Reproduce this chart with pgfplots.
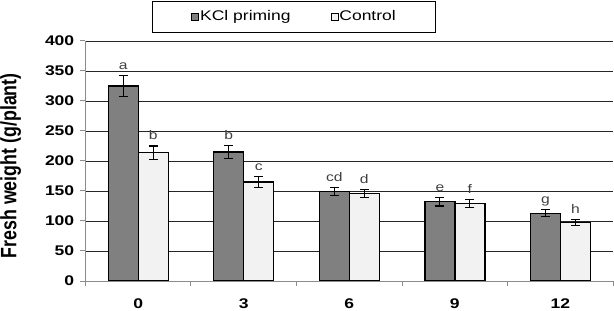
\documentclass[border=0pt]{standalone}
\usepackage{fontspec}
\setmainfont{Liberation Sans}[FakeStretch=1.25]
\newfontfamily\ylabfont{Liberation Sans}[FakeStretch=0.8]
\usepackage{pgfplots}
\pgfplotsset{compat=1.18}
\usepackage{pgfplotstable}

\definecolor{darkbar}{gray}{0.5}
\definecolor{lightbar}{gray}{0.95}
\definecolor{axgray}{gray}{0.55}

\pgfplotstableread{
x y err lab
0 325 17 a
1 215 11 b
2 149 7 cd
3 132 7 e
4 113 6 g
}\kcl
\pgfplotstableread{
x y err lab
0 214 11 b
1 165 9 c
2 146 7 d
3 129 7 f
4 98 5 h
}\ctrl

\begin{document}
\begin{tikzpicture}
\begin{axis}[
  scale only axis, width=527.8bp, height=240bp,
  ybar=0pt, bar width=30bp,
  xmin=-0.5, xmax=4.5, ymin=0, ymax=400,
  ytick={0,50,...,400},
  xtick={-0.5,0.5,...,4.5}, xticklabels={},
  extra x ticks={0,1,2,3,4}, extra x tick labels={0,3,6,9,12},
  extra x tick style={major tick length=0pt},
  axis x line=bottom, axis y line=left,
  axis line style={-, axgray, line width=1bp},
  tick align=outside, major tick length=5bp,
  tick style={axgray, line width=1bp},
  ymajorgrids, grid style={black!85, line width=0.9bp},
  /pgf/number format/assume math mode=true,
  ticklabel style={font=\fontsize{14bp}{16bp}\selectfont\bfseries},
  yticklabel style={anchor=east, inner sep=0pt, xshift=-6bp},
  xticklabel style={anchor=north, inner sep=0pt, yshift=-18bp},
  ylabel={Fresh weight (g/plant)},
  ylabel style={at={(axis description cs:-0.1618,0.48)}, anchor=north, inner sep=0pt,
    font=\ylabfont\bfseries\fontsize{22.25bp}{24bp}\selectfont},
  legend style={at={(axis description cs:0.1261,1.168)}, anchor=north west,
    draw=black, line width=0.8bp, inner xsep=39bp, inner ysep=8bp,
    font=\fontsize{14bp}{16bp}\selectfont,
    nodes={inner xsep=1bp, inner ysep=1bp, text height=10.5bp, text depth=3bp},
    /tikz/every even column/.append style={column sep=39bp}},
  legend columns=2,
  nodes near coords, point meta=explicit symbolic,
  visualization depends on={\thisrow{err}\as\myerr},
  every node near coord/.append style={anchor=base, inner sep=0pt,
    yshift={\myerr*0.6bp+6bp}, font=\fontsize{12.5bp}{14bp}\selectfont, text=black!75},
  error bars/y dir=both, error bars/y explicit,
  error bars/error bar style={black, line width=1.2bp},
  error bars/error mark options={rotate=90, mark size=4.5bp, line width=1.2bp, black},
]
\coordinate (o) at (rel axis cs:0,0);
\addplot[fill=darkbar, draw=black, line width=1.3bp,
  legend image code/.code={\draw[fill=darkbar, draw=black, line width=0.8bp] (0bp,-3.5bp) rectangle (7bp,3.5bp);}]
  table[x=x, y=y, y error=err, meta=lab]{\kcl};
\addlegendentry{KCl priming}
\addplot[fill=lightbar, draw=black, line width=1.3bp,
  legend image code/.code={\draw[fill=lightbar, draw=black, line width=0.8bp] (0bp,-3.5bp) rectangle (7bp,3.5bp);}]
  table[x=x, y=y, y error=err, meta=lab]{\ctrl};
\addlegendentry{Control}
\end{axis}
\pgfresetboundingbox
\path[use as bounding box] (o) ++(-85.4bp,-30bp) rectangle ++(614bp,311bp);
\end{tikzpicture}
\end{document}
